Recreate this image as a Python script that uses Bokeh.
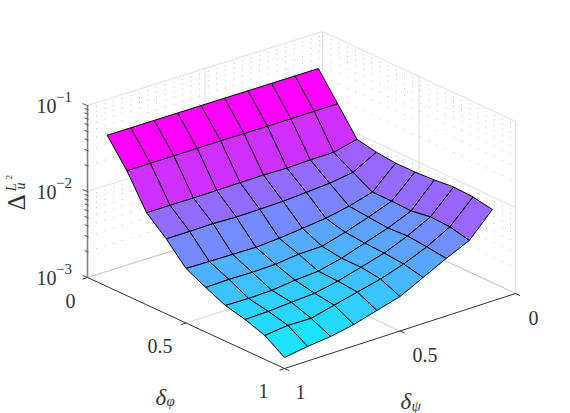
import math
from bokeh.plotting import figure
from bokeh.models import Range1d, ColumnDataSource
from bokeh.core.properties import value
from bokeh.embed import file_html
from bokeh.resources import INLINE

delta_phi = [0.1, 0.2, 0.3, 0.4, 0.5, 0.6, 0.7, 0.8, 0.9, 1.0]
delta_psi = [1.0, 0.9, 0.8, 0.7, 0.6, 0.5, 0.4, 0.3, 0.2, 0.1]
# log10 of Delta_u^{L2}; one row per delta_phi, columns follow delta_psi
log_row_01 = [-1.240, -1.240, -1.240, -1.240, -1.240, -1.240, -1.240, -1.240, -1.240, -1.240]
log_row_02 = [-1.547, -1.547, -1.547, -1.547, -1.545, -1.547, -1.548, -1.547, -1.547, -1.545]
log_row_03 = [-1.930, -1.930, -1.932, -1.930, -1.926, -1.924, -1.930, -1.920, -1.919, -1.853]
log_row_04 = [-2.128, -2.128, -2.124, -2.134, -2.130, -2.124, -2.106, -2.087, -2.047, -1.899]
log_row_05 = [-2.366, -2.372, -2.376, -2.380, -2.362, -2.333, -2.302, -2.249, -2.172, -1.921]
log_row_06 = [-2.481, -2.474, -2.479, -2.472, -2.442, -2.436, -2.360, -2.271, -2.171, -1.920]
log_row_07 = [-2.585, -2.590, -2.583, -2.552, -2.534, -2.470, -2.381, -2.293, -2.181, -1.907]
log_row_08 = [-2.642, -2.635, -2.616, -2.598, -2.544, -2.469, -2.392, -2.280, -2.145, -1.884]
log_row_09 = [-2.722, -2.692, -2.697, -2.631, -2.566, -2.502, -2.414, -2.302, -2.156, -1.895]
log_row_10 = [-2.872, -2.831, -2.802, -2.750, -2.674, -2.599, -2.465, -2.331, -2.209, -1.936]
rows = [log_row_01, log_row_02, log_row_03, log_row_04, log_row_05,
        log_row_06, log_row_07, log_row_08, log_row_09, log_row_10]

decades = [-3, -2, -1]
minor_mult = [2, 3, 4, 5, 6, 7, 8, 9]
mid_tick = 0.5

# projection of the 3-D box onto the page (orthographic view)
A = (87.0, 277.0)    # phi=0, psi=1
B = (284.0, 368.0)   # phi=1, psi=1
C = (515.0, 293.0)   # phi=1, psi=0
D = (322.0, 203.0)   # phi=0, psi=0
DEC_PX = 86.0


def proj(phi, psi, logz=-3.0):
    s, t = phi, 1.0 - psi
    fx = (1-s)*(1-t)*A[0] + s*(1-t)*B[0] + s*t*C[0] + (1-s)*t*D[0]
    fy = (1-s)*(1-t)*A[1] + s*(1-t)*B[1] + s*t*C[1] + (1-s)*t*D[1]
    return fx, fy - (logz + 3.0) * DEC_PX


p = figure(width=570, height=413, x_range=Range1d(0, 570), y_range=Range1d(413, 0),
           output_backend="svg", toolbar_location=None, min_border=0)
p.axis.visible = False
p.grid.visible = False
p.outline_line_color = None
p.background_fill_color = "white"


def seg(a, b, color, width, dash="solid"):
    xa, ya = proj(*a)
    xb, yb = proj(*b)
    p.line([xa, xb], [ya, yb], line_color=color, line_width=width, line_dash=dash)


GRID = "#e2e2e2"
MINOR = "#b4b4b4"
for lz in decades[:2]:
    for m in minor_mult:
        l = lz + math.log10(m)
        seg((0, 1, l), (0, 0, l), MINOR, 1, "1 8")
        seg((0, 0, l), (1, 0, l), MINOR, 1, "1 8")
for lz in decades:
    seg((0, 1, lz), (0, 0, lz), GRID if lz > -3 else "#c8c8c8", 1.2)
    seg((0, 0, lz), (1, 0, lz), GRID if lz > -3 else "#c8c8c8", 1.2)
seg((0, 0, -3), (0, 0, -1), GRID, 1.2)
seg((1, 0, -3), (1, 0, -1), GRID, 1.2)
seg((mid_tick, 1, -3), (mid_tick, 0, -3), "#d8d8d8", 1.2)
seg((0, mid_tick, -3), (1, mid_tick, -3), "#d8d8d8", 1.2)
seg((0, mid_tick, -3), (0, mid_tick, -1), GRID, 1.2)
seg((mid_tick, 0, -3), (mid_tick, 0, -1), GRID, 1.2)

# surface
lo = min(min(r) for r in rows)
hi = max(max(r) for r in rows)
xs, ys, colors = [], [], []
for i in range(len(delta_phi) - 1):
    for j in range(len(delta_psi) - 2, -1, -1):
        corners = [(i, j), (i, j+1), (i+1, j+1), (i+1, j)]
        pts = [proj(delta_phi[a], delta_psi[b], rows[a][b]) for a, b in corners]
        xs.append([q[0] for q in pts])
        ys.append([q[1] for q in pts])
        t = (rows[i][j+1] - lo) / (hi - lo)
        colors.append("#%02x%02x%02x" % (round(255*t), round(255*(1-t)), 255))
src = ColumnDataSource(dict(xs=xs, ys=ys, c=colors))
p.patches("xs", "ys", source=src, fill_color="c", line_color="black", line_width=1)

# axes
AXC = "#333333"
seg((0, 1, -3), (1, 1, -3), AXC, 1)
seg((1, 1, -3), (1, 0, -3), AXC, 1)
seg((0, 1, -3), (0, 1, -1), "#808080", 1.6)
for v in [0, mid_tick, 1]:
    x, y = proj(v, 1, -3)
    p.line([x, x-5], [y, y+1.6], line_color=AXC, line_width=1)
    x, y = proj(1, v, -3)
    p.line([x, x+4.5], [y, y+2], line_color=AXC, line_width=1)
for lz in decades:
    x, y = proj(0, 1, lz)
    p.line([x+1, x-5], [y+0.5, y-2], line_color="#555555", line_width=1)
for lz in decades[:2]:
    for m in minor_mult:
        x, y = proj(0, 1, lz + math.log10(m))
        p.line([x+1, x-3], [y+0.5, y-1], line_color="#555555", line_width=1)

TXT = "#333333"
SERIF = value("Liberation Serif")


def txt(x, y, s, size, style="normal", angle=0.0, align="left"):
    p.text([x], [y], text=[s], text_font=SERIF, text_font_size=f"{size}px",
           text_font_style=style, text_color=TXT, text_align=align,
           text_baseline="alphabetic", angle=angle)


for lz in decades:
    _, y = proj(0, 1, lz)
    txt(36, y, "10", 20)
    txt(55.5, y - 8.5, "\u2212" + str(abs(lz)), 15)

txt(75, 300, "0", 20, align="right")
txt(172, 345, "0.5", 20, align="right")
txt(268, 390, "1", 20, align="right")
txt(295, 391, "1", 20)
txt(412, 354, "0.5", 20)
txt(528, 317, "0", 20)

txt(155, 397, "\u03b4", 23, "italic")
txt(166, 400, "\u03c6", 15, "italic")
txt(400, 401, "\u03b4", 23, "italic")
txt(411, 405, "\u03c8", 15, "italic")

HALF = math.pi / 2
txt(16, 210, "\u0394", 25, angle=HALF)
txt(10, 191, "L", 15, "italic", angle=HALF)
txt(8, 179, "2", 9, angle=HALF)
txt(20, 189, "u", 14, "italic", angle=HALF)

open("out.html", "w").write(file_html(p, INLINE))
